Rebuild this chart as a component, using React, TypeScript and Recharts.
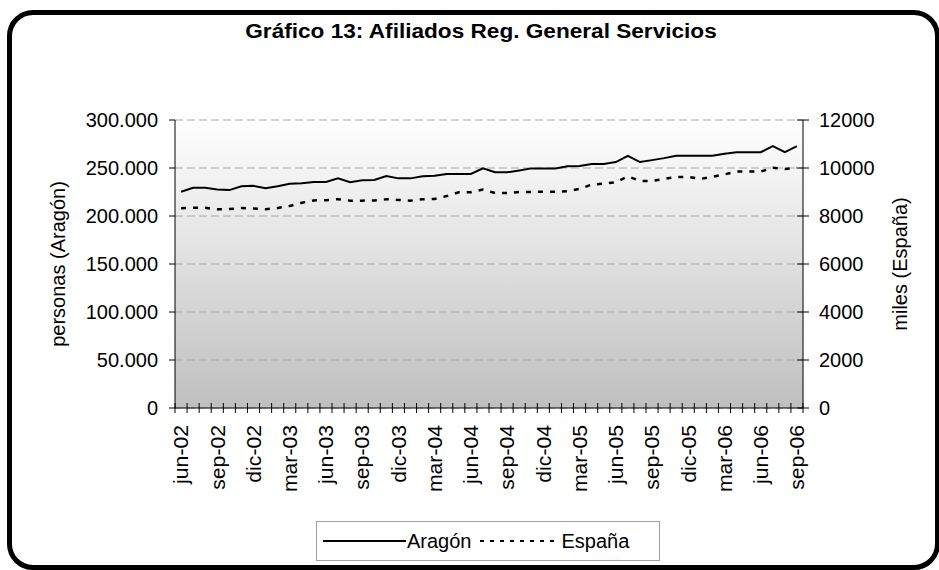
import { ComposedChart, Line, XAxis, YAxis, CartesianGrid } from 'recharts'

const meses = [
  'jun-02', 'jul-02', 'ago-02', 'sep-02', 'oct-02', 'nov-02', 'dic-02',
  'ene-03', 'feb-03', 'mar-03', 'abr-03', 'may-03', 'jun-03', 'jul-03', 'ago-03', 'sep-03', 'oct-03', 'nov-03', 'dic-03',
  'ene-04', 'feb-04', 'mar-04', 'abr-04', 'may-04', 'jun-04', 'jul-04', 'ago-04', 'sep-04', 'oct-04', 'nov-04', 'dic-04',
  'ene-05', 'feb-05', 'mar-05', 'abr-05', 'may-05', 'jun-05', 'jul-05', 'ago-05', 'sep-05', 'oct-05', 'nov-05', 'dic-05',
  'ene-06', 'feb-06', 'mar-06', 'abr-06', 'may-06', 'jun-06', 'jul-06', 'ago-06', 'sep-06',
]

// personas
const aragon = [
  225200, 229300, 229300, 227600, 227000, 231000, 231400,
  229000, 231000, 233500, 234000, 235500, 235500, 239200, 235200, 237300, 237600, 241700, 239200,
  239200, 241400, 242000, 243800, 243800, 243800, 249600, 245700, 245500, 247500, 249600, 249600,
  249600, 251700, 252000, 254100, 254100, 256200, 262700, 256200, 258200, 260300, 262700, 262700,
  262700, 262700, 264800, 266500, 266500, 266500, 272700, 266500, 272700,
]

// miles
const espana = [
  8320, 8340, 8340, 8280, 8290, 8330, 8310,
  8280, 8330, 8420, 8550, 8650, 8660, 8700, 8640, 8640, 8650, 8700, 8670,
  8640, 8700, 8710, 8830, 8990, 8990, 9100, 8960, 8960, 9000, 9000, 9010,
  9010, 9030, 9130, 9310, 9350, 9400, 9650, 9460, 9460, 9545, 9630, 9630,
  9545, 9630, 9735, 9850, 9850, 9850, 10010, 9960, 10010,
]

const ticksIzq = [0, 50000, 100000, 150000, 200000, 250000, 300000]
const ticksDer = [0, 2000, 4000, 6000, 8000, 10000, 12000]

const data = meses.map((mes, i) => ({ mes, aragon: aragon[i], espana: espana[i] }))

const FONT = '"Liberation Sans", Arial, sans-serif'
const BAND = 628 / meses.length

const fmtMiles = (v: number) => (v === 0 ? '0' : `${v / 1000}.000`)

function MesTick(props: any) {
  const { x, y, index, payload } = props
  const half = payload && payload.offset ? payload.offset : BAND / 2
  const bx = x - half
  return (
    <g>
      <line x1={bx} x2={bx} y1={y - 5} y2={y + 5} stroke="#000" />
      {index === meses.length - 1 && (
        <line x1={x + half} x2={x + half} y1={y - 5} y2={y + 5} stroke="#000" />
      )}
      {index % 3 === 0 && (
        <text
          x={0}
          y={0}
          transform={`translate(${x},${y + 17}) rotate(-90) scale(1.06,1)`}
          textAnchor="end"
          dominantBaseline="central"
          fontSize={20}
          fontFamily={FONT}
          fill="#000"
        >
          {payload.value}
        </text>
      )}
    </g>
  )
}

function DerTick(props: any) {
  const { x, y, payload } = props
  return (
    <g>
      <line x1={x - 6} x2={x + 6} y1={y} y2={y} stroke="#000" />
      <text x={x + 16} y={y} dominantBaseline="central" fontSize={20} fontFamily={FONT} fill="#000">
        {payload.value}
      </text>
    </g>
  )
}

export default function App() {
  return (
    <div
      style={{
        position: 'absolute',
        left: 0,
        top: 0,
        width: 939,
        height: 570,
        overflow: 'hidden',
        background: '#fff',
        fontFamily: FONT,
      }}
    >
      <div
        style={{
          position: 'absolute',
          left: 7,
          top: 10,
          width: 933,
          height: 560,
          boxSizing: 'border-box',
          border: '5px solid #000',
          borderRadius: 26,
        }}
      />
      <div
        style={{
          position: 'absolute',
          left: 481,
          top: 20,
          transform: 'translateX(-50%) scaleX(1.13)',
          whiteSpace: 'nowrap',
          fontWeight: 'bold',
          fontSize: 20,
          color: '#000',
        }}
      >
        Gráfico 13: Afiliados Reg. General Servicios
      </div>
      <div style={{ position: 'absolute', left: 0, top: 0 }}>
        <ComposedChart width={939} height={570} data={data} margin={{ top: 120, right: 0, bottom: 0, left: 0 }}>
          <defs>
            <linearGradient id="fondo" x1="0" y1="0" x2="0" y2="1">
              <stop offset="0%" stopColor="#ffffff" />
              <stop offset="100%" stopColor="#bfbfbf" />
            </linearGradient>
          </defs>
          <CartesianGrid
            yAxisId="izq"
            vertical={false}
            fill="url(#fondo)"
            stroke="#a6a6a6"
            strokeDasharray="8 4"
          />
          <XAxis
            dataKey="mes"
            scale="band"
            height={162}
            interval={0}
            tickLine={false}
            tickSize={0}
            tickMargin={0}
            axisLine={{ stroke: '#000' }}
            tick={<MesTick />}
          />
          <YAxis
            yAxisId="izq"
            width={175}
            domain={[0, 300000]}
            ticks={ticksIzq}
            tickFormatter={fmtMiles}
            tickSize={6}
            tickMargin={11}
            tickLine={{ stroke: '#000' }}
            axisLine={{ stroke: '#000' }}
            tick={{ fontSize: 20, fontFamily: FONT, fill: '#000' }}
            label={{
              value: 'personas (Aragón)',
              angle: -90,
              position: 'center',
              dx: -30,
              style: { fontSize: 20, fontFamily: FONT, fill: '#000' },
            }}
          />
          <YAxis
            yAxisId="der"
            orientation="right"
            width={136}
            domain={[0, 12000]}
            ticks={ticksDer}
            tickLine={false}
            tickSize={0}
            tickMargin={0}
            axisLine={{ stroke: '#000' }}
            tick={<DerTick />}
            label={{
              value: 'miles (España)',
              angle: -90,
              position: 'center',
              dx: 29,
              style: { fontSize: 20, fontFamily: FONT, fill: '#000' },
            }}
          />
          <Line
            yAxisId="izq"
            dataKey="aragon"
            name="Aragón"
            type="linear"
            stroke="#000"
            strokeWidth={2}
            dot={false}
            isAnimationActive={false}
          />
          <Line
            yAxisId="der"
            dataKey="espana"
            name="España"
            type="linear"
            stroke="#000"
            strokeWidth={2.5}
            strokeDasharray="5 7"
            dot={false}
            isAnimationActive={false}
          />
        </ComposedChart>
      </div>
      <div
        style={{
          position: 'absolute',
          left: 316,
          top: 521,
          width: 344,
          height: 40,
          boxSizing: 'border-box',
          border: '1px solid #a0a0a0',
          background: '#fff',
          display: 'flex',
          alignItems: 'center',
          fontSize: 20,
          color: '#000',
        }}
      >
        <svg width={90} height={10} style={{ marginLeft: 6 }}>
          <line x1={0} x2={83} y1={5} y2={5} stroke="#000" strokeWidth={2} />
        </svg>
        <span style={{ marginLeft: -6 }}>Aragón</span>
        <svg width={84} height={10} style={{ marginLeft: 6 }}>
          <line x1={2} x2={76} y1={5} y2={5} stroke="#000" strokeWidth={2} strokeDasharray="4 6" />
        </svg>
        <span>España</span>
      </div>
    </div>
  )
}
